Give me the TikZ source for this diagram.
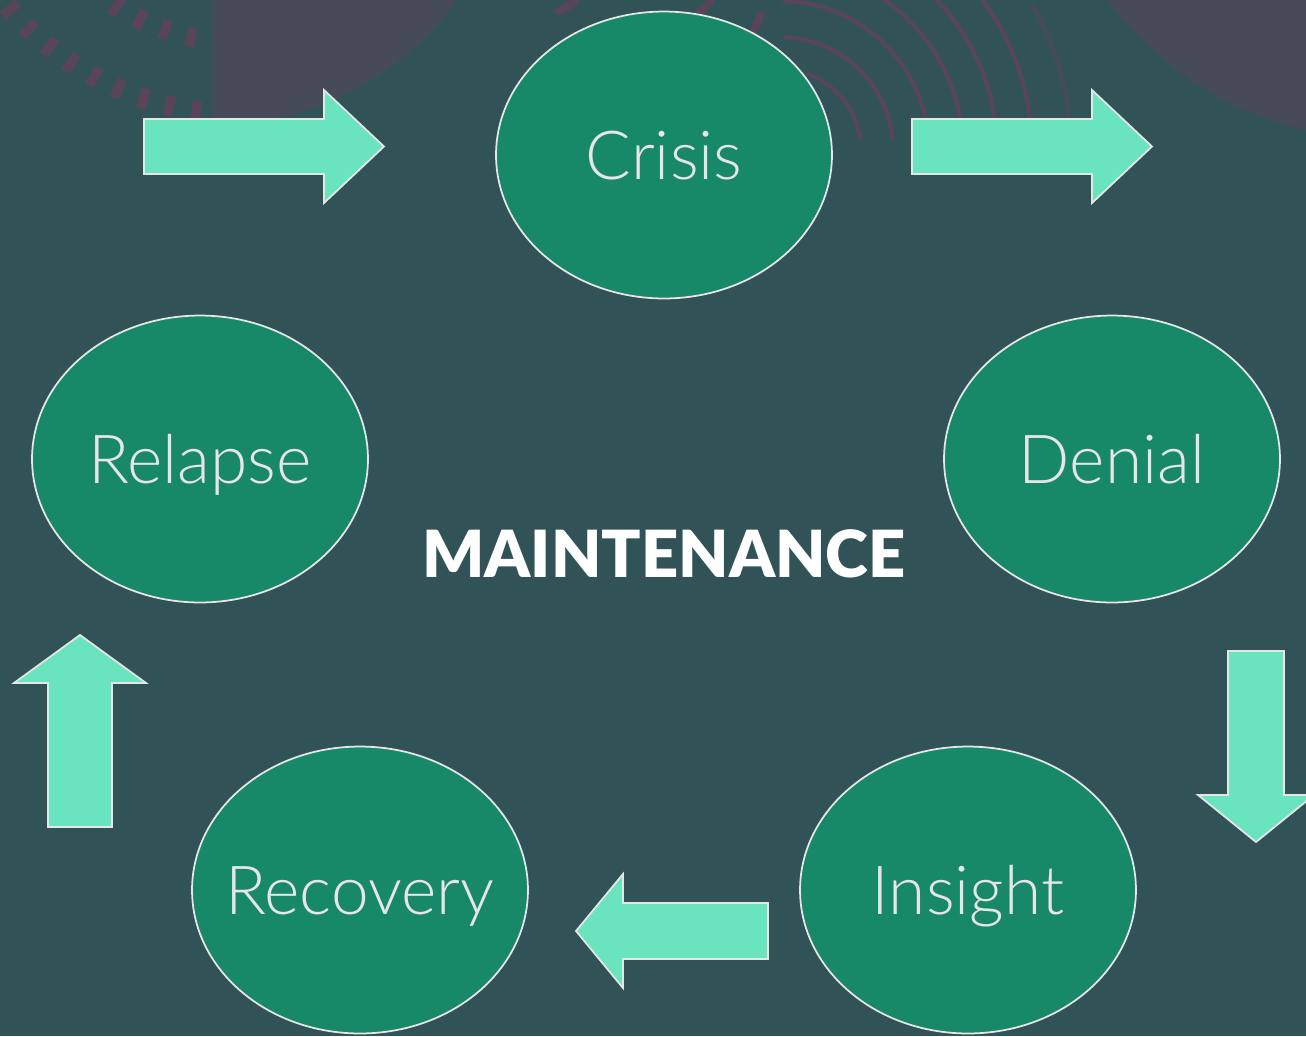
\documentclass[tikz,border=0pt]{standalone}
\usepackage{fontspec}
\usetikzlibrary{shapes.geometric}

\IfFontExistsTF{Lato Light}{\newfontfamily\stagefont{Lato Light}}{\newfontfamily\stagefont{Lato}}
\IfFontExistsTF{Lato Black}{\newfontfamily\titlefont{Lato Black}}{\newfontfamily\titlefont{Lato}[UprightFont=*-Bold]}

\definecolor{bgteal}{HTML}{315357}
\definecolor{discgrey}{HTML}{474B59}
\definecolor{tickplum}{HTML}{5A4558}
\definecolor{stagegreen}{HTML}{178868}
\definecolor{arrowmint}{HTML}{6AE4BF}
\definecolor{rimgrey}{HTML}{E6E6E6}

\begin{document}
\begin{tikzpicture}[x=0.02cm, y=-0.02cm,
    stage/.style={ellipse, draw=rimgrey, line width=1pt, fill=stagegreen,
      minimum width=6.72cm, minimum height=5.74cm},
    stagelabel/.style={text=rimgrey, inner sep=0pt, text height=27.6pt, text depth=0pt,
      font=\stagefont\fontsize{38.5}{42}\selectfont},
    blockarrow/.style={draw=rimgrey, line width=1pt, fill=arrowmint},
    ring/.style={draw=tickplum, line width=0.08cm},
    tickarc/.style={draw=tickplum, line width=0.4cm, dash pattern=on 0.19cm off 0.35cm},
    tickmark/.style={draw=tickplum, line width=0.16cm, line cap=round}]

    % Background
    \useasboundingbox (0,0) rectangle (1306,1036);
    \clip (0,0) rectangle (1306,1036);
    \fill[bgteal] (0,0) rectangle (1306,1036);

    % Tick rings, top left
    \draw[tickarc] (240,-190) ++(145:304) arc[start angle=145, end angle=88, radius=304];
    \draw[tickarc] (240,-190) ++(150:232) arc[start angle=150, end angle=88, radius=232];

    % Grey discs
    \begin{scope}
        \clip (212,0) rectangle (800,400);
        \fill[discgrey] (212,-177) circle[radius=302];
    \end{scope}
    \fill[discgrey] (1380,-200) circle[radius=338];

    % Concentric rings behind Crisis
    \foreach \r/\a in {81/-71, 113/-88, 149/-89, 183/-115, 217/-115, 252/-115} {
        \pgfmathsetmacro\e{-asin(10/\r)}
        \draw[ring] (780,150) ++(\a:\r) arc[start angle=\a, end angle=\e, radius=\r];
    }
    \draw[ring, opacity=0.6] (780,150) ++(-30:291) arc[start angle=-30, end angle=-2, radius=291];

    \draw[tickmark] (559,11) -- (575,2);
    \draw[tickmark] (699,13) -- (710,2);
    \draw[tickmark] (754,30) -- (761,15);

    % Stages
    \node[stage, label={[stagelabel]center:Crisis}] (crisis) at (664,155) {};
    \node[stage, label={[stagelabel]center:Denial}] (denial) at (1112,459) {};
    \node[stage, label={[stagelabel]center:Insight}] (insight) at (968,890) {};
    \node[stage, label={[stagelabel]center:Recovery}] (recovery) at (360,890) {};
    \node[stage, label={[stagelabel]center:Relapse}] (relapse) at (200,459) {};

    \node[text=white, inner sep=0pt, text height=26.5pt, text depth=0pt,
      font=\titlefont\fontsize{37}{40}\selectfont] (maintenance) at (664,554) {MAINTENANCE};

    % Block arrows
    \draw[blockarrow] (144,119) -- (324,119) -- (324,90) -- (384,146.5) -- (324,203) -- (324,174) -- (144,174) -- cycle;
    \draw[blockarrow] (912,119) -- (1092,119) -- (1092,90) -- (1152,146.5) -- (1092,203) -- (1092,174) -- (912,174) -- cycle;
    \draw[blockarrow] (1228,651) -- (1284,651) -- (1284,795) -- (1314,795) -- (1256,842) -- (1198,795) -- (1228,795) -- cycle;
    \draw[blockarrow] (768,903) -- (768,959) -- (623,959) -- (623,988) -- (576,931) -- (623,874) -- (623,903) -- cycle;
    \draw[blockarrow] (48,827) -- (48,683) -- (14,683) -- (80,635) -- (146,683) -- (112,683) -- (112,827) -- cycle;
\end{tikzpicture}
\end{document}
